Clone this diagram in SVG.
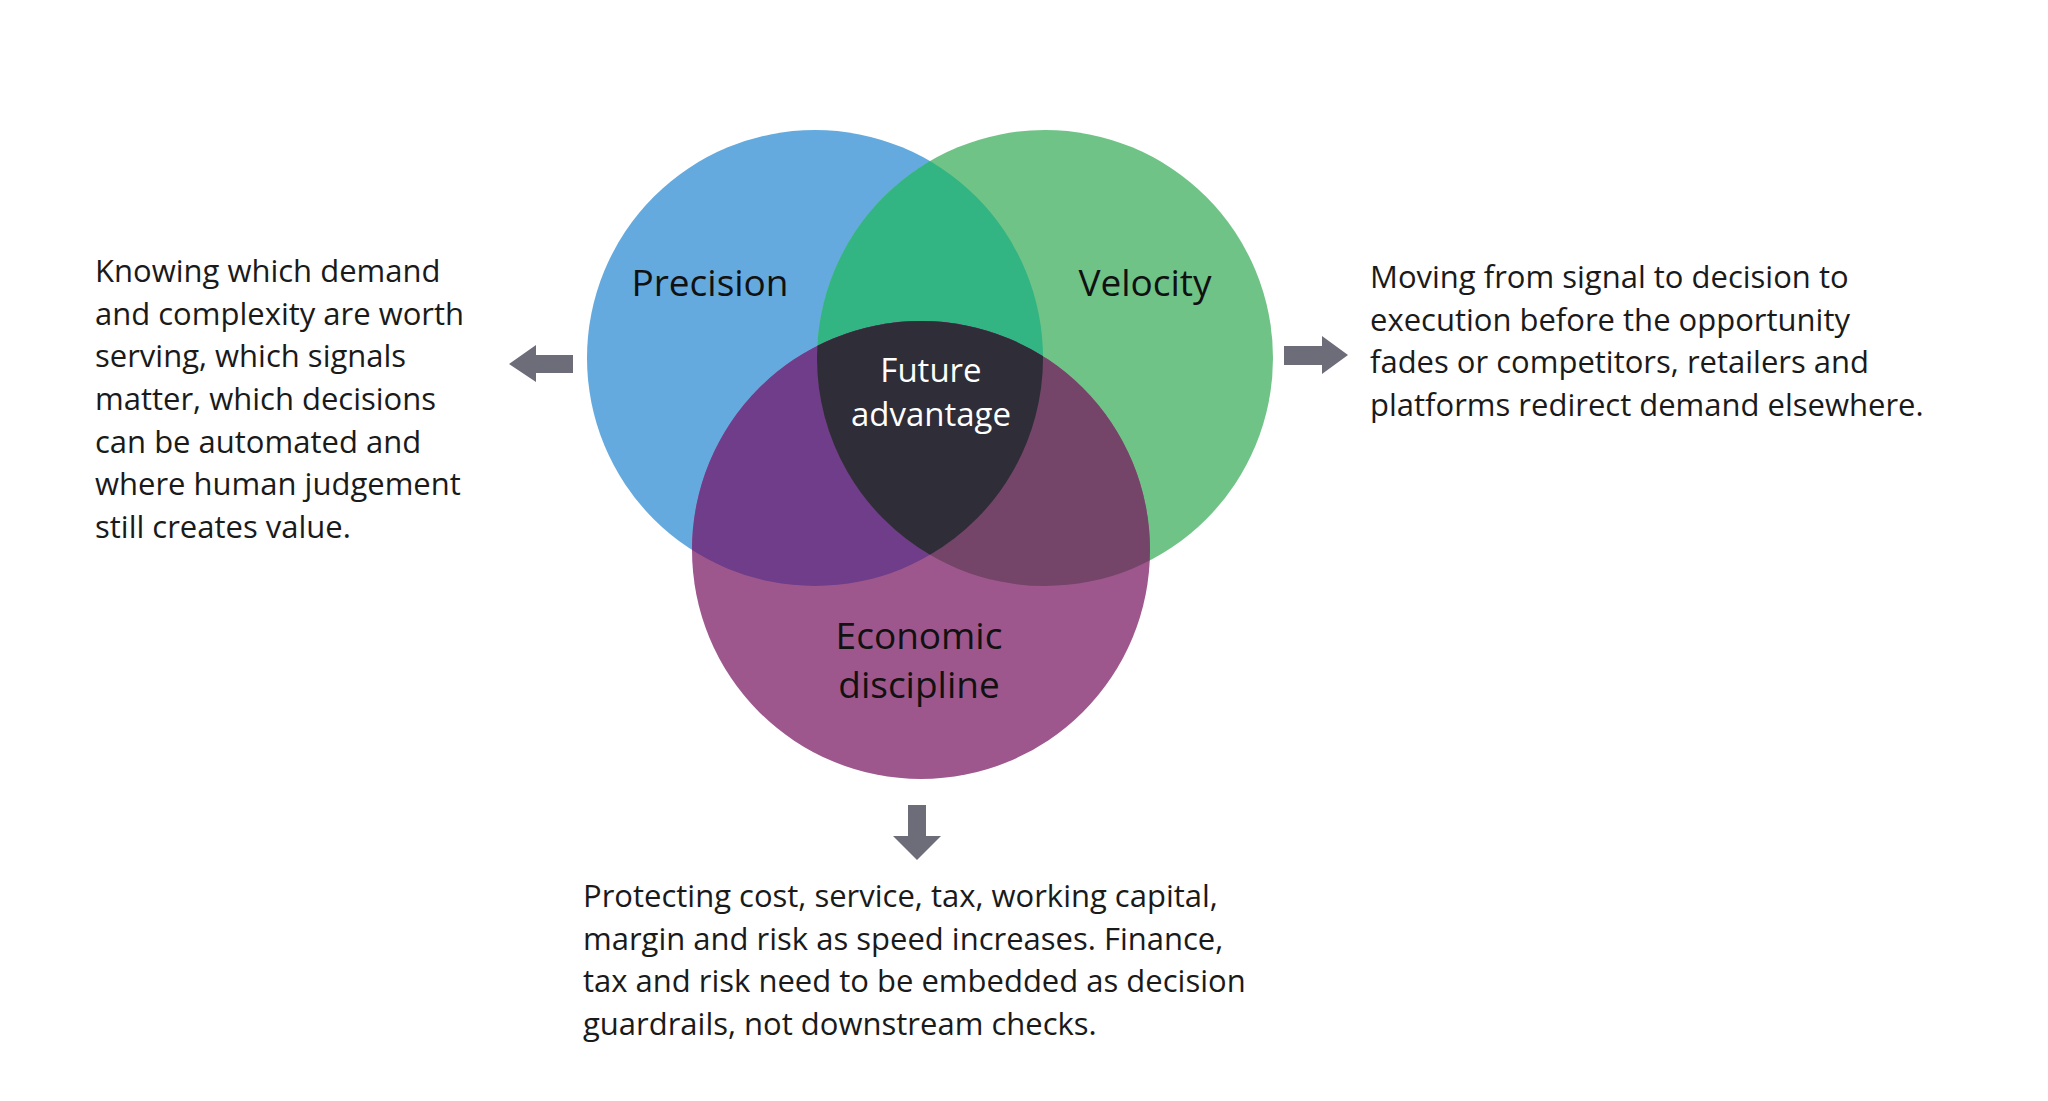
<svg xmlns="http://www.w3.org/2000/svg" width="2048" height="1101" viewBox="0 0 2048 1101">
<style>
.t{font-family:"Open Sans","Liberation Sans",sans-serif;font-size:31px;fill:#1a1a1a}
.l{font-family:"Open Sans","Liberation Sans",sans-serif;font-size:37px;fill:#111;text-anchor:middle}
.w{font-family:"Open Sans","Liberation Sans",sans-serif;font-size:33px;fill:#fff;text-anchor:middle}
.a{fill:#6d6d7a}
</style>
<defs>
<clipPath id="cb"><circle cx="815" cy="358" r="228"/></clipPath>
<clipPath id="cg"><circle cx="1045" cy="358" r="228"/></clipPath>
<clipPath id="cbg" clip-path="url(#cb)"><circle cx="1045" cy="358" r="228"/></clipPath>
</defs>
<rect width="2048" height="1101" fill="#fff"/>
<g id="precision"><circle cx="815" cy="358" r="228" fill="#64aade"/></g>
<g id="velocity"><circle cx="1045" cy="358" r="228" fill="#70c387"/>
<circle cx="1045" cy="358" r="228" fill="#32b483" clip-path="url(#cb)"/></g>
<g id="economic"><circle cx="921" cy="550" r="229" fill="#9e578c"/>
<circle cx="921" cy="550" r="229" fill="#6f3d8a" clip-path="url(#cb)"/>
<circle cx="921" cy="550" r="229" fill="#744568" clip-path="url(#cg)"/></g>
<g id="future"><circle cx="921" cy="550" r="229" fill="#2e2d38" clip-path="url(#cbg)"/>
<text class="w" x="931" y="382">Future</text><text class="w" x="931" y="426">advantage</text></g>
<text class="l" x="710" y="296">Precision</text>
<text class="l" x="1145" y="296">Velocity</text>
<text class="l" x="919" y="649">Economic</text>
<text class="l" x="919" y="698">discipline</text>
<g id="connectors">
<polygon class="a" points="509,364 536,345 536,355 573,355 573,373 536,373 536,382"/>
<polygon class="a" points="1348,355 1322,336 1322,346 1284,346 1284,365 1322,365 1322,374"/>
<polygon class="a" points="917,860 893,836 908,836 908,805 926,805 926,836 941,836"/>
</g>
<g id="left-text"><text class="t" x="95"><tspan x="95" y="282">Knowing which demand</tspan><tspan x="95" y="325">and complexity are worth</tspan><tspan x="95" y="367">serving, which signals</tspan><tspan x="95" y="410">matter, which decisions</tspan><tspan x="95" y="453">can be automated and</tspan><tspan x="95" y="495">where human judgement</tspan><tspan x="95" y="538">still creates value.</tspan></text></g>
<g id="right-text"><text class="t"><tspan x="1370" y="288">Moving from signal to decision to</tspan><tspan x="1370" y="331">execution before the opportunity</tspan><tspan x="1370" y="373">fades or competitors, retailers and</tspan><tspan x="1370" y="416">platforms redirect demand elsewhere.</tspan></text></g>
<g id="bottom-text"><text class="t"><tspan x="583" y="907">Protecting cost, service, tax, working capital,</tspan><tspan x="583" y="950">margin and risk as speed increases. Finance,</tspan><tspan x="583" y="992">tax and risk need to be embedded as decision</tspan><tspan x="583" y="1035">guardrails, not downstream checks.</tspan></text></g>
</svg>
